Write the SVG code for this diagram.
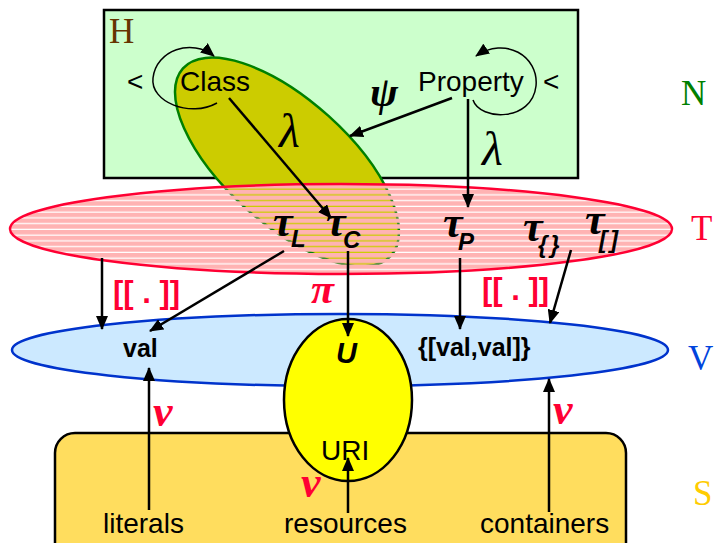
<svg xmlns="http://www.w3.org/2000/svg" width="716" height="543" viewBox="0 0 716 543">
<style>
.sans{font-family:"Liberation Sans",Arial,sans-serif;fill:#000}
.lbl{font-size:28px}
.bold{font-weight:bold}
.greek{font-family:"Liberation Serif","Times New Roman",serif;font-style:italic;font-weight:bold}
.gthin{font-family:"Liberation Serif","Times New Roman",serif;font-style:italic}
.mono{font-family:"Liberation Serif","Times New Roman",serif;font-size:35px}
.sub{font-family:"Liberation Sans",Arial,sans-serif;font-weight:bold;font-style:italic;font-size:24px}
.red{fill:#ff0033}
.arr{stroke:#000;stroke-width:2.5;fill:none;marker-end:url(#ah)}
.loop{stroke:#000;stroke-width:1.5;fill:none;marker-end:url(#ah)}
</style>
<defs>
<marker id="ah" viewBox="0 0 14 12" refX="13" refY="6" markerWidth="14" markerHeight="12" markerUnits="userSpaceOnUse" orient="auto">
<path d="M0,0 L14,6 L0,12 z" fill="#000"/>
</marker>
<pattern id="stripes" patternUnits="userSpaceOnUse" x="0" y="184" width="20" height="5.75">
<rect x="0" y="0" width="20" height="4.5" fill="#ffb3b3"/>
</pattern>
</defs>

<g id="H">
<rect x="104" y="10" width="474" height="168" fill="#ccffcc" stroke="#000" stroke-width="2.5"/>
<text class="mono" x="109" y="43" fill="#663300">H</text>
</g>

<g id="ClassRegion">
<ellipse cx="287" cy="162" rx="140" ry="62" transform="rotate(42 287 162)" fill="#cccc00" stroke="#008000" stroke-width="2.5"/>
</g>

<g id="T">
<ellipse cx="341" cy="229" rx="331" ry="45" fill="url(#stripes)"/>
<ellipse cx="341" cy="229" rx="331" ry="45" fill="none" stroke="#ff0033" stroke-width="2.5"/>
<text class="greek" font-size="44" x="273" y="236">τ<tspan class="sub" x="291" y="247">L</tspan></text>
<text class="greek" font-size="44" x="326" y="236">τ<tspan class="sub" x="343" y="248">C</tspan></text>
<text class="greek" font-size="44" x="443" y="237">τ<tspan class="sub" x="458" y="250">P</tspan></text>
<text class="greek" font-size="44" x="523" y="241">τ<tspan class="sub" x="538" y="253" letter-spacing="3">{}</tspan></text>
<text class="greek" font-size="44" x="585" y="234">τ<tspan class="sub" x="599" y="248" letter-spacing="3">[]</tspan></text>
</g>

<g id="V">
<ellipse cx="340" cy="350" rx="328" ry="36" fill="#cce9ff" stroke="#0033cc" stroke-width="2.5"/>
<text class="sans bold" font-size="25" x="123" y="357">val</text>
<text class="sans bold" font-size="25" x="418" y="356">{[val,val]}</text>
</g>

<g id="S">
<rect x="55" y="433" width="571" height="130" rx="20" ry="20" fill="#ffdd5e" stroke="#000" stroke-width="2.5"/>
<text class="sans lbl" x="103" y="533">literals</text>
<text class="sans lbl" x="284" y="533">resources</text>
<text class="sans lbl" x="480" y="533">containers</text>
</g>

<g id="URI">
<ellipse cx="348" cy="400" rx="64" ry="81" fill="#ffff00" stroke="#000" stroke-width="2.5"/>
<text class="sans bold" font-size="29" font-style="italic" x="336" y="363">U</text>
<text class="sans lbl" x="321" y="460">URI</text>
</g>

<g id="Class">
<text class="sans lbl" x="180" y="91">Class</text>
<text class="sans lbl" x="127" y="91">&lt;</text>
</g>

<g id="Property">
<text class="sans lbl" x="418" y="91">Property</text>
<text class="sans lbl" x="543" y="91">&lt;</text>
</g>

<g id="levels">
<text class="mono" x="681" y="105" fill="#008000">N</text>
<text class="mono" x="691" y="240" fill="#ff0033">T</text>
<text class="mono" x="688" y="370" fill="#0044dd">V</text>
<text class="mono" x="693" y="505" fill="#ffcc00">S</text>
</g>

<g id="connectors">
<path class="loop" d="M217,103 C190,118 150,102 153,78 C156,50 192,38 214,56"/>
<path class="loop" d="M473,100 C480,121 532,122 536,86 C539,56 505,36 476,56"/>
<path class="arr" d="M229,98 L331,218"/>
<path class="arr" d="M452,98 L350,136"/>
<path class="arr" d="M468,99 L468,207"/>
<path class="arr" d="M102,258 L102,329"/>
<path class="arr" d="M284,251 L150,331"/>
<path class="arr" d="M348,251 L348,336"/>
<path class="arr" d="M460,258 L460,329"/>
<path class="arr" d="M571,250 L550,323"/>
<path class="arr" d="M149,510 L149,368"/>
<path class="arr" d="M348,513 L348,458"/>
<path class="arr" d="M549,512 L549,379"/>
<text class="gthin" font-size="48" x="279" y="147">λ</text>
<text class="gthin" font-size="48" x="482" y="165">λ</text>
<text class="greek" font-size="42" x="370" y="106">ψ</text>
<text class="greek red" font-size="42" x="311" y="303">π</text>
<text class="sans bold red" font-size="31" x="113" y="303">[[ . ]]</text>
<text class="sans bold red" font-size="31" x="482" y="300">[[ . ]]</text>
<text class="greek red" font-size="44" x="153" y="426">ν</text>
<text class="greek red" font-size="44" x="301" y="497">ν</text>
<text class="greek red" font-size="44" x="553" y="424">ν</text>
</g>
</svg>
